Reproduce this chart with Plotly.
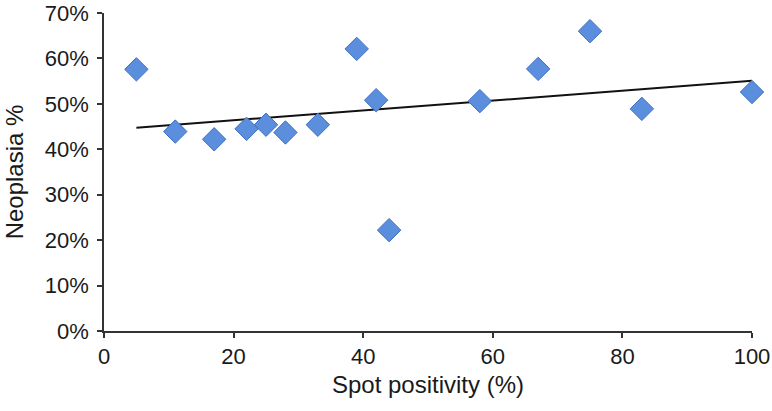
import numpy as np
import plotly.graph_objects as go

spot_positivity = [5, 11, 17, 22, 25, 28, 33, 39, 42, 44, 58, 67, 75, 83, 100]
neoplasia_pct = [57.6, 43.9, 42.2, 44.5, 45.4, 43.7, 45.4, 62.1, 50.8, 22.2, 50.6, 57.7, 66.0, 48.9, 52.6]
y_ticks = [0, 10, 20, 30, 40, 50, 60, 70]
y_tick_labels = [f"{v}%" for v in y_ticks]
x_ticks = [0, 20, 40, 60, 80, 100]

x = np.array(spot_positivity, dtype=float)
y = np.array(neoplasia_pct, dtype=float) / 100.0
slope, intercept = np.polyfit(x, y, 1)
x_fit = np.array([x.min(), x.max()])
y_fit = slope * x_fit + intercept

font_family = "Liberation Sans, Arial, Helvetica, sans-serif"

fig = go.Figure()
fig.add_trace(go.Scatter(
    x=x_fit, y=y_fit, mode="lines",
    line=dict(color="#111111", width=2),
    hoverinfo="skip", showlegend=False,
))
fig.add_trace(go.Scatter(
    x=x, y=y, mode="markers",
    marker=dict(symbol="diamond", size=18, color="#5B8FDD",
                line=dict(color="#3F6FBF", width=1)),
    showlegend=False, cliponaxis=False,
))

fig.update_layout(
    width=772, height=411,
    margin=dict(l=104, r=20, t=13, b=80),
    paper_bgcolor="white", plot_bgcolor="white",
    font=dict(family=font_family, size=22, color="#1a1a1a"),
    xaxis=dict(
        range=[0, 100], tickvals=x_ticks,
        showgrid=False, zeroline=False, automargin=False,
        showline=True, linecolor="#333333", linewidth=1.5,
        ticks="outside", ticklen=5, tickwidth=1.5, tickcolor="#333333",
        tickfont=dict(size=22),
        title=dict(text="Spot positivity (%)", font=dict(size=24), standoff=8),
    ),
    yaxis=dict(
        range=[0, 0.70], tickvals=[v / 100 for v in y_ticks], ticktext=y_tick_labels,
        showgrid=False, zeroline=False, automargin=False,
        showline=True, linecolor="#333333", linewidth=1.5,
        ticks="outside", ticklen=5, tickwidth=1.5, tickcolor="#333333",
        tickfont=dict(size=22), ticklabelstandoff=4,
        title=dict(text="Neoplasia %", font=dict(size=24), standoff=14),
    ),
)

fig.write_html(
    "out.html",
    config={"displayModeBar": False},
    post_script="document.body.style.margin='0';document.body.style.overflow='hidden';",
)
